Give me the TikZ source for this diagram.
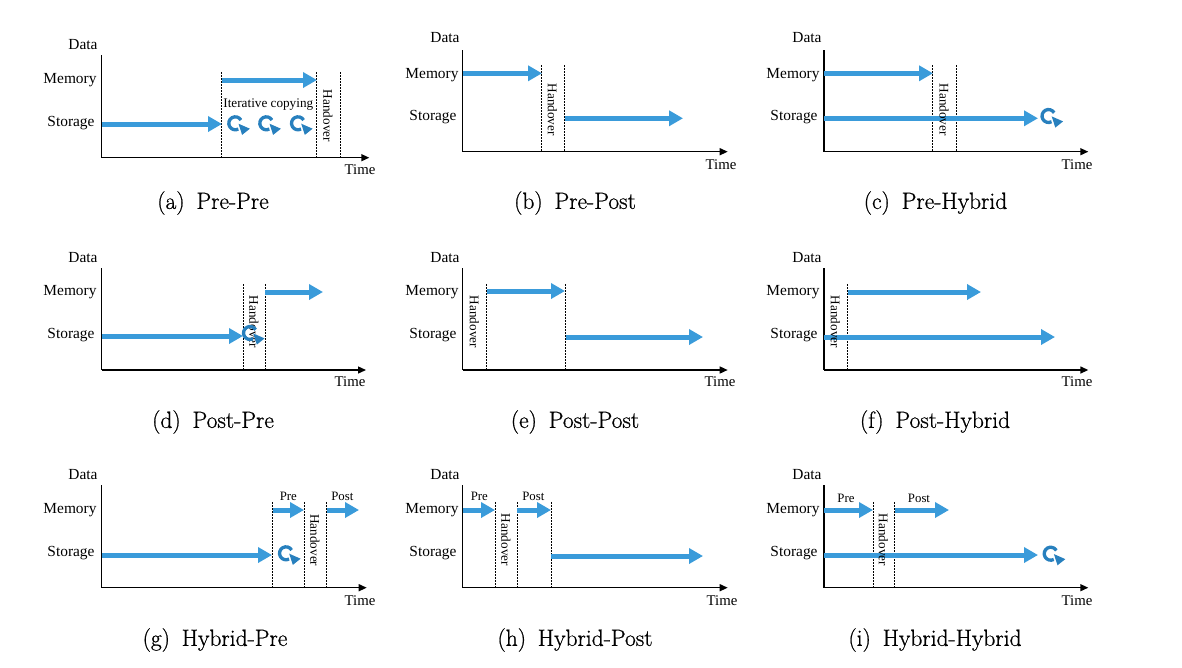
\documentclass[tikz,border=0pt]{standalone}
\usepackage{fontspec}
\newfontfamily\tms{Liberation Serif}
\newfontfamily\capfont[FakeBold=0.8]{Latin Modern Roman}
\usetikzlibrary{arrows.meta,calc}
\definecolor{flowblue}{RGB}{58,155,218}
\definecolor{loopblue}{RGB}{40,128,190}
\newcommand\loopsym[3]{%
  \coordinate (#1) at (#2,#3);
  \draw[loopline] (#1) ++(-30:6.5) arc[start angle=-30, end angle=-298, radius=6.5];
  \fill[loopblue] ($(#1)+(3.2,0.4)$) -- ($(#1)+(6.8,11.6)$) -- ($(#1)+(14.6,5.4)$) -- cycle;
}
\newcommand\axes[8]{%
  \coordinate (#1o) at (#2,#4);
  \coordinate (#1t) at (#2,#3);
  \coordinate (#1e) at (#5,#4);
  \draw[yax] (#1t) -- (#1o);
  \draw[xax] (#1o) -- (#1e);
  \node[lbl] (#1data) at (#6,#7) {Data};
  \node[tim] (#1time) at (#8) {Time};
}
\begin{document}
\begin{tikzpicture}[x=1pt,y=-1pt,
  lbl/.style={font=\tms\fontsize{15.4}{16}\selectfont, inner sep=0pt, text height=10.2pt, text depth=0pt},
  tim/.style={font=\tms\fontsize{14.8}{16}\selectfont, inner sep=0pt, text height=9.8pt, text depth=0pt},
  ho/.style={font=\tms\fontsize{13.2}{14}\selectfont, rotate=-90, inner sep=0pt},
  sm/.style={font=\tms\fontsize{12.8}{14}\selectfont, inner sep=0pt, text height=8.5pt, text depth=0pt},
  itc/.style={font=\tms\fontsize{13.2}{14}\selectfont, inner sep=0pt, text height=8.7pt, text depth=0pt},
  subcap/.style={font=\capfont\fontsize{23.5}{25}\selectfont, inner sep=0pt},
  flow/.style={line width=5pt, draw=flowblue, -{Triangle[length=14pt,width=15pt]}},
  xax/.style={line width=1.4pt, -{Triangle[length=8pt,width=7pt]}},
  yax/.style={line width=1.2pt},
  phase/.style={line width=0.9pt, dash pattern=on 1.6pt off 1.4pt},
  loopline/.style={line width=3.3pt, draw=loopblue},
]
\useasboundingbox (0,0) rectangle (1182,667);

% ---------------- (a) Pre-Pre
\axes{a}{101.5}{55}{157.7}{369.3}{83}{44}{360,170}
\node[lbl] (amem) at (70,78) {Memory};
\node[lbl] (asto) at (71,121) {Storage};
\foreach \x/\n in {221/1,316/2,340/3} \draw[phase] (\x,72) coordinate (ad\n t) -- (\x,157.7) coordinate (ad\n b);
\coordinate (am1) at (222,80); \coordinate (am2) at (317,80);
\coordinate (as1) at (102,124); \coordinate (as2) at (222,124);
\draw[flow] (am1) -- (am2);
\draw[flow] (as1) -- (as2);
\node[itc] (aiter) at (268.3,102.7) {Iterative copying};
\node[ho] (aho) at (328,116) {Handover};
\loopsym{al1}{235.3}{123.3}
\loopsym{al2}{266.3}{123.3}
\loopsym{al3}{298}{123.3}
\node[subcap] (acap) at (213,203) {(a)\hspace{0.5em}Pre-Pre};

% ---------------- (b) Pre-Post
\axes{b}{462.7}{50}{151.7}{727.7}{445}{37}{721,165}
\node[lbl] (bmem) at (432,73) {Memory};
\node[lbl] (bsto) at (433,115) {Storage};
\foreach \x/\n in {541/1,564/2} \draw[phase] (\x,65) coordinate (bd\n t) -- (\x,151.7) coordinate (bd\n b);
\coordinate (bm1) at (463,73.3); \coordinate (bm2) at (542,73.3);
\coordinate (bs1) at (565,118.3); \coordinate (bs2) at (683,118.3);
\draw[flow] (bm1) -- (bm2);
\draw[flow] (bs1) -- (bs2);
\node[ho] (bho) at (552.5,109.7) {Handover};
\node[subcap] (bcap) at (575,203) {(b)\hspace{0.5em}Pre-Post};

% ---------------- (c) Pre-Hybrid
\axes{c}{824}{50}{151.7}{1088.3}{807}{37}{1077,165}
\node[lbl] (cmem) at (793,73) {Memory};
\node[lbl] (csto) at (794,115) {Storage};
\foreach \x/\n in {932/1,956/2} \draw[phase] (\x,65) coordinate (cd\n t) -- (\x,151.7) coordinate (cd\n b);
\coordinate (cm1) at (824,73.3); \coordinate (cm2) at (933,73.3);
\coordinate (cs1) at (824,118.3); \coordinate (cs2) at (1038,118.3);
\draw[flow] (cm1) -- (cm2);
\draw[flow] (cs1) -- (cs2);
\node[ho] (cho) at (944,109.7) {Handover};
\loopsym{cl}{1048.5}{116}
\node[subcap] (ccap) at (935.5,203) {(c)\hspace{0.5em}Pre-Hybrid};

% ---------------- (d) Post-Pre
\axes{d}{101.7}{268}{370}{366}{83}{257}{350,382}
\node[lbl] (dmem) at (70,290) {Memory};
\node[lbl] (dsto) at (71,333) {Storage};
\foreach \x/\n in {243/1,265/2} \draw[phase] (\x,284) coordinate (dd\n t) -- (\x,370) coordinate (dd\n b);
\coordinate (ds1) at (102,336); \coordinate (ds2) at (243,336);
\coordinate (dm1) at (265,292); \coordinate (dm2) at (323,292);
\draw[flow] (ds1) -- (ds2);
\draw[flow] (dm1) -- (dm2);
\node[ho] (dho) at (254,322) {Handover};
\loopsym{dl}{250}{333}
\node[subcap] (dcap) at (213,422) {(d)\hspace{0.5em}Post-Pre};

% ---------------- (e) Post-Post
\axes{e}{462.7}{268}{370}{727.7}{445}{257}{720,382}
\node[lbl] (emem) at (432,290) {Memory};
\node[lbl] (esto) at (433,333) {Storage};
\foreach \x/\n in {486/1,565/2} \draw[phase] (\x,284) coordinate (ed\n t) -- (\x,370) coordinate (ed\n b);
\coordinate (em1) at (487,291); \coordinate (em2) at (565,291);
\coordinate (es1) at (566,337); \coordinate (es2) at (703,337);
\draw[flow] (em1) -- (em2);
\draw[flow] (es1) -- (es2);
\node[ho] (eho) at (474.5,322) {Handover};
\node[subcap] (ecap) at (575,422) {(e)\hspace{0.5em}Post-Post};

% ---------------- (f) Post-Hybrid
\axes{f}{824}{268}{370}{1088.3}{807}{257}{1077,382}
\node[lbl] (fmem) at (793,290) {Memory};
\node[lbl] (fsto) at (794,333) {Storage};
\draw[phase] (847,284) coordinate (fd1t) -- (847,370) coordinate (fd1b);
\coordinate (fm1) at (848,292); \coordinate (fm2) at (981,292);
\coordinate (fs1) at (824,337); \coordinate (fs2) at (1055,337);
\draw[flow] (fm1) -- (fm2);
\draw[flow] (fs1) -- (fs2);
\node[ho] (fho) at (835.5,322) {Handover};
\node[subcap] (fcap) at (935,422) {(f)\hspace{0.5em}Post-Hybrid};

% ---------------- (g) Hybrid-Pre
\axes{g}{101.7}{485}{587.7}{366.7}{83}{474}{360,601}
\node[lbl] (gmem) at (70,508) {Memory};
\node[lbl] (gsto) at (71,551) {Storage};
\foreach \x/\n in {272/1,304/2,326/3} \draw[phase] (\x,502) coordinate (gd\n t) -- (\x,587.7) coordinate (gd\n b);
\coordinate (gs1) at (102,555); \coordinate (gs2) at (272,555);
\coordinate (gm1) at (273,510); \coordinate (gm2) at (304,510);
\coordinate (gm3) at (327,510); \coordinate (gm4) at (359,510);
\draw[flow] (gs1) -- (gs2);
\draw[flow] (gm1) -- (gm2);
\draw[flow] (gm3) -- (gm4);
\node[sm] (gpre) at (288.3,496.7) {Pre};
\node[sm] (gpost) at (342.3,496.7) {Post};
\node[ho] (gho) at (315,540.3) {Handover};
\loopsym{gl}{286}{553.3}
\node[subcap] (gcap) at (215,640) {(g)\hspace{0.5em}Hybrid-Pre};

% ---------------- (h) Hybrid-Post
\axes{h}{462.7}{485}{587.7}{727.7}{445}{474}{722,601}
\node[lbl] (hmem) at (432,508) {Memory};
\node[lbl] (hsto) at (433,551) {Storage};
\foreach \x/\n in {495/1,517/2,551/3} \draw[phase] (\x,502) coordinate (hd\n t) -- (\x,587.7) coordinate (hd\n b);
\coordinate (hm1) at (463,510); \coordinate (hm2) at (495,510);
\coordinate (hm3) at (517,510); \coordinate (hm4) at (551,510);
\coordinate (hs1) at (551,556); \coordinate (hs2) at (703,556);
\draw[flow] (hm1) -- (hm2);
\draw[flow] (hm3) -- (hm4);
\draw[flow] (hs1) -- (hs2);
\node[sm] (hpre) at (479.3,496.7) {Pre};
\node[sm] (hpost) at (533.3,496.7) {Post};
\node[ho] (hho) at (506,540) {Handover};
\node[subcap] (hcap) at (575,640) {(h)\hspace{0.5em}Hybrid-Post};

% ---------------- (i) Hybrid-Hybrid
\axes{i}{824}{485}{587.7}{1088.3}{807}{474}{1077,601}
\node[lbl] (imem) at (793,508) {Memory};
\node[lbl] (isto) at (794,551) {Storage};
\foreach \x/\n in {873/1,894/2} \draw[phase] (\x,502) coordinate (id\n t) -- (\x,587.7) coordinate (id\n b);
\coordinate (im1) at (824,510); \coordinate (im2) at (873,510);
\coordinate (im3) at (895,510); \coordinate (im4) at (949,510);
\coordinate (is1) at (824,555); \coordinate (is2) at (1038,555);
\draw[flow] (im1) -- (im2);
\draw[flow] (im3) -- (im4);
\draw[flow] (is1) -- (is2);
\node[sm] (ipre) at (846,498.3) {Pre};
\node[sm] (ipost) at (919,498.3) {Post};
\node[ho] (iho) at (883.5,540) {Handover};
\loopsym{il}{1050.7}{553.7}
\node[subcap] (icap) at (935,640) {(i)\hspace{0.5em}Hybrid-Hybrid};
\end{tikzpicture}
\end{document}
